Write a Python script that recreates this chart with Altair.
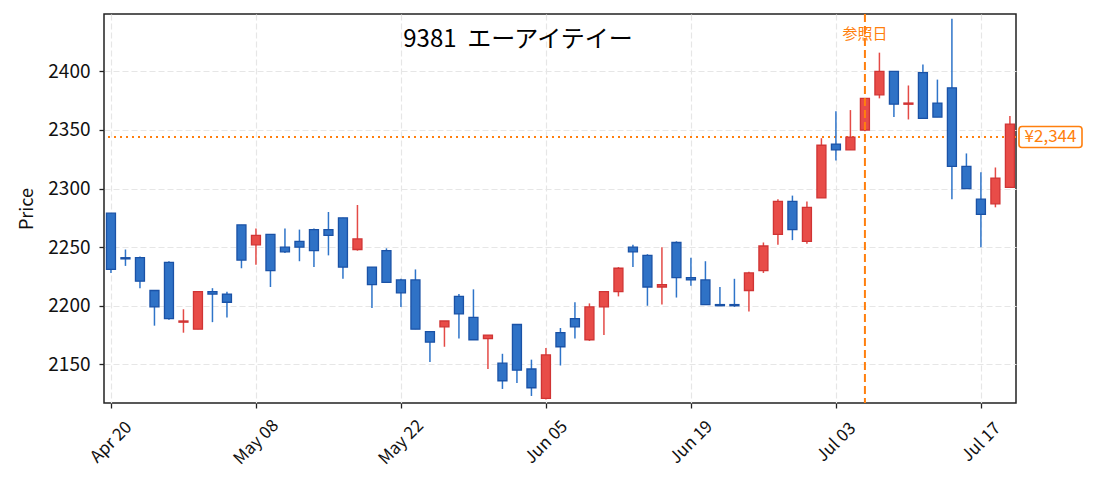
import altair as alt
import pandas as pd

dates = [
    "2020-04-20", "2020-04-21", "2020-04-22", "2020-04-23", "2020-04-24",
    "2020-04-27", "2020-04-28", "2020-04-30", "2020-05-01", "2020-05-07",
    "2020-05-08", "2020-05-11", "2020-05-12", "2020-05-13", "2020-05-14",
    "2020-05-15", "2020-05-18", "2020-05-19", "2020-05-20", "2020-05-21",
    "2020-05-22", "2020-05-25", "2020-05-26", "2020-05-27", "2020-05-28",
    "2020-05-29", "2020-06-01", "2020-06-02", "2020-06-03", "2020-06-04",
    "2020-06-05", "2020-06-08", "2020-06-09", "2020-06-10", "2020-06-11",
    "2020-06-12", "2020-06-15", "2020-06-16", "2020-06-17", "2020-06-18",
    "2020-06-19", "2020-06-22", "2020-06-23", "2020-06-24", "2020-06-25",
    "2020-06-26", "2020-06-29", "2020-06-30", "2020-07-01", "2020-07-02",
    "2020-07-03", "2020-07-06", "2020-07-07", "2020-07-08", "2020-07-09",
    "2020-07-10", "2020-07-13", "2020-07-14", "2020-07-15", "2020-07-16",
    "2020-07-17", "2020-07-20", "2020-07-21",
]
opens = [2279, 2241, 2241, 2213, 2237, 2186, 2180, 2212, 2210, 2269,
         2252, 2261, 2250, 2255, 2265, 2265, 2275, 2248, 2233, 2247,
         2222, 2222, 2178, 2182, 2208, 2190, 2172, 2151, 2184, 2146,
         2121, 2177, 2189, 2171, 2199, 2212, 2250, 2243, 2216, 2254,
         2224, 2222, 2201, 2201, 2213, 2230, 2261, 2289, 2255, 2292,
         2338, 2333, 2350, 2380, 2400, 2372, 2399, 2373, 2386, 2319,
         2291, 2287, 2301]
highs = [2279, 2248, 2242, 2213, 2238, 2197, 2212, 2215, 2212, 2269,
         2266, 2261, 2266, 2265, 2266, 2280, 2275, 2286, 2233, 2249,
         2223, 2231, 2178, 2187, 2210, 2214, 2175, 2159, 2184, 2154,
         2164, 2181, 2203, 2202, 2212, 2233, 2252, 2244, 2250, 2255,
         2241, 2238, 2216, 2223, 2229, 2254, 2291, 2294, 2289, 2343,
         2366, 2367, 2377, 2416, 2400, 2388, 2406, 2393, 2445, 2330,
         2314, 2318, 2362]
lows = [2228, 2234, 2215, 2183, 2188, 2177, 2180, 2186, 2190, 2232,
        2235, 2216, 2245, 2238, 2233, 2243, 2223, 2247, 2198, 2220,
        2199, 2180, 2152, 2165, 2172, 2171, 2146, 2129, 2134, 2123,
        2120, 2149, 2172, 2170, 2175, 2208, 2233, 2200, 2201, 2207,
        2217, 2201, 2200, 2199, 2195, 2228, 2252, 2256, 2253, 2292,
        2324, 2333, 2349, 2377, 2361, 2359, 2360, 2361, 2291, 2300,
        2250, 2284, 2301]
closes = [2231, 2240, 2221, 2199, 2189, 2187, 2212, 2210, 2203, 2239,
          2260, 2230, 2246, 2250, 2247, 2260, 2233, 2257, 2218, 2220,
          2211, 2180, 2169, 2187, 2193, 2171, 2175, 2136, 2145, 2130,
          2158, 2165, 2182, 2199, 2212, 2232, 2246, 2216, 2218, 2224,
          2222, 2201, 2200, 2200, 2228, 2251, 2289, 2265, 2284, 2337,
          2333, 2344, 2377, 2400, 2372, 2373, 2360, 2361, 2319, 2300,
          2278, 2309, 2355]

ref_date = "2020-07-07"
ref_price = 2344
ref_label = "参照日"
title_text = "9381\u00a0\u00a0エーアイテイー"
y_ticks = [2150, 2200, 2250, 2300, 2350, 2400]

FONT = "Noto Sans CJK JP"
ORANGE = "#ff7f0e"

df = pd.DataFrame({"date": dates, "open": opens, "high": highs,
                   "low": lows, "close": closes})
df["idx"] = list(range(len(df)))
df["dir"] = ["up" if c >= o else "down" for o, c in zip(opens, closes)]

ref_idx = dates.index(ref_date)
ref_df = pd.DataFrame({"idx": [ref_idx], "label": [ref_label]})

tick_idx = list(range(0, len(dates), 10))
tick_labels = [pd.Timestamp(dates[i]).strftime("%b %d") for i in tick_idx]
label_expr = "[" + ",".join("'%s'" % t for t in tick_labels) + "][round(datum.value/10)]"

xscale = alt.Scale(domain=[-0.48, 62.42], nice=False, zero=False, padding=0)
yscale = alt.Scale(domain=[2117, 2449], nice=False, zero=False, padding=0)

x_axis = alt.Axis(values=tick_idx, labelExpr=label_expr, labelAngle=-45,
                  labelAlign="center", labelBaseline="middle", labelPadding=34,
                  tickSize=5, tickColor="#222", tickWidth=1.3, domain=False,
                  grid=True, gridDash=[6, 3], gridColor="#e6e6e6", gridWidth=1.2,
                  labelFont=FONT, labelFontSize=17, labelColor="#111", title=None)
y_axis = alt.Axis(values=y_ticks, format="d", tickSize=5, tickColor="#222",
                  tickWidth=1.3, domain=False, grid=True, gridDash=[6, 3],
                  gridColor="#e6e6e6", gridWidth=1.2, labelFont=FONT,
                  labelFontSize=19, labelColor="#111", labelPadding=9,
                  title="Price", titleFont=FONT, titleFontSize=18,
                  titleFontWeight="normal", titleColor="#111", titlePadding=11)

base = alt.Chart(df)

wicks = base.mark_rule(strokeWidth=1.5).encode(
    x=alt.X("idx:Q", scale=xscale, axis=x_axis),
    y=alt.Y("low:Q", scale=yscale, axis=y_axis),
    y2="high:Q",
    color=alt.Color("dir:N", scale=alt.Scale(domain=["up", "down"],
                    range=["#e44a46", "#2e74c9"]), legend=None),
)

bodies = base.mark_bar(size=9, strokeWidth=1.3).encode(
    x=alt.X("idx:Q", scale=xscale),
    y=alt.Y("open:Q", scale=yscale),
    y2="close:Q",
    fill=alt.Fill("dir:N", scale=alt.Scale(domain=["up", "down"],
                  range=["#e84c48", "#2f72c6"]), legend=None),
    stroke=alt.Stroke("dir:N", scale=alt.Scale(domain=["up", "down"],
                      range=["#d03434", "#1a52a6"]), legend=None),
)

vline = alt.Chart(ref_df).mark_rule(color=ORANGE, strokeWidth=2,
                                    strokeDash=[8, 4]).encode(
    x=alt.X("idx:Q", scale=xscale))

vlabel = alt.Chart(ref_df).mark_text(font=FONT, fontSize=15, color=ORANGE,
                                     baseline="middle", align="center").encode(
    x=alt.X("idx:Q", scale=xscale), y=alt.value(20), text="label:N")

hline = alt.Chart(ref_df).mark_rule(color=ORANGE, strokeWidth=2,
                                    strokeDash=[2, 4]).encode(
    y=alt.datum(ref_price))

box = alt.Chart(ref_df).mark_rect(fill="white", stroke=ORANGE, strokeWidth=1.6,
                                  cornerRadius=3).encode(
    x=alt.value(915), x2=alt.value(978),
    y=alt.datum(ref_price + 9), y2=alt.datum(ref_price - 9))

box_text = alt.Chart(ref_df).mark_text(font=FONT, fontSize=17, color=ORANGE,
                                       align="center", baseline="middle").encode(
    x=alt.value(946.5), y=alt.datum(ref_price),
    text=alt.value("¥{:,}".format(ref_price)))

title = alt.Chart(ref_df).mark_text(font=FONT, fontSize=24, color="#000",
                                    align="center", baseline="middle").encode(
    x=alt.value(414), y=alt.value(26), text=alt.value(title_text))

chart = alt.layer(hline, wicks, bodies, vline, vlabel, box, box_text, title).properties(
    width=912, height=389,
    background="white",
    autosize=alt.AutoSizeParams(type="none"),
    padding={"left": 96, "top": 6, "right": 70, "bottom": 70},
).configure_view(stroke="#222", strokeWidth=1.5)

chart.save("out.html", embed_options={"renderer": "svg", "actions": False})
